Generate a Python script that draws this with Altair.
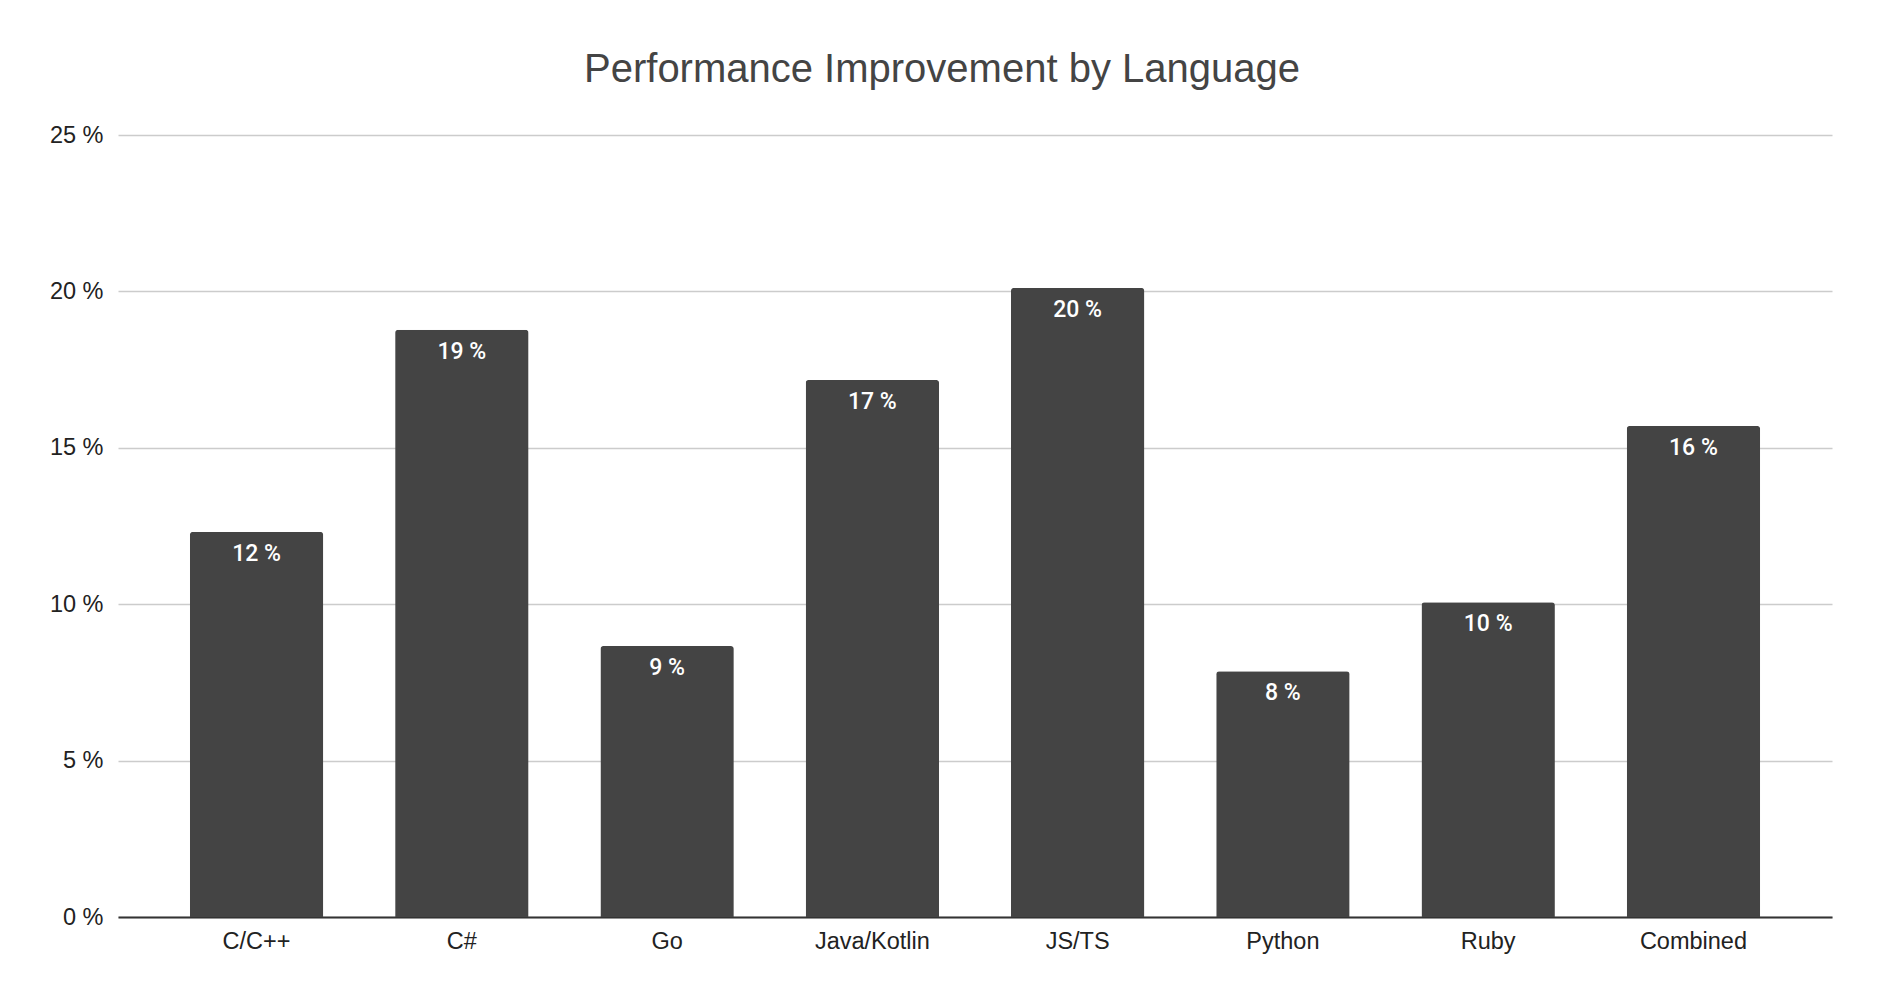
import altair as alt
import pandas as pd

languages = ["C/C++", "C#", "Go", "Java/Kotlin", "JS/TS", "Python", "Ruby", "Combined"]
improvement = [12.31, 18.77, 8.66, 17.17, 20.11, 7.86, 10.06, 15.70]
y_ticks = [0, 5, 10, 15, 20, 25]

df = pd.DataFrame({"language": languages, "value": improvement})

x_enc = alt.X(
    "language:N",
    sort=languages,
    title=None,
    scale=alt.Scale(paddingInner=0.35, paddingOuter=0.35),
    axis=alt.Axis(
        labelAngle=0,
        labelFont="Liberation Sans",
        labelFontSize=23.5,
        labelColor="#222222",
        labelPadding=12,
        ticks=False,
        tickSize=0,
        domain=True,
        domainColor="#333333",
        domainWidth=2,
        grid=False,
    ),
)
y_enc = alt.Y(
    "value:Q",
    title=None,
    scale=alt.Scale(domain=[0, 25], nice=False),
    axis=alt.Axis(
        values=y_ticks,
        labelExpr="datum.value + ' %'",
        labelFont="Liberation Sans",
        labelFontSize=23.5,
        labelColor="#222222",
        labelPadding=15,
        ticks=False,
        tickSize=0,
        domain=False,
        grid=True,
        gridColor="#cccccc",
        gridWidth=1.5,
    ),
)

bars = alt.Chart(df).mark_bar(
    color="#444444", cornerRadiusTopLeft=3, cornerRadiusTopRight=3
).encode(x=x_enc, y=y_enc)

labels = alt.Chart(df).transform_calculate(
    label="format(datum.value, '.0f') + ' %'"
).mark_text(
    color="white",
    font="Roboto",
    fontSize=23,
    fontWeight=500,
    baseline="middle",
    align="center",
    dy=22,
).encode(
    x=alt.X("language:N", sort=languages),
    y=alt.Y("value:Q"),
    text="label:N",
)

chart = (
    alt.layer(bars, labels)
    .properties(
        width=1714,
        height=782,
        autosize=alt.AutoSizeParams(type="none"),
        padding={"left": 110, "top": 127, "right": 30, "bottom": 60},
        background="white",
        title=alt.TitleParams(
            text="Performance Improvement by Language",
            font="Liberation Sans",
            fontSize=40,
            fontWeight="normal",
            color="#444444",
            anchor="middle",
            dx=-33,
            offset=33,
        ),
    )
    .configure_view(stroke=None)
)

chart.save("out.html", embed_options={"renderer": "svg", "actions": False})
